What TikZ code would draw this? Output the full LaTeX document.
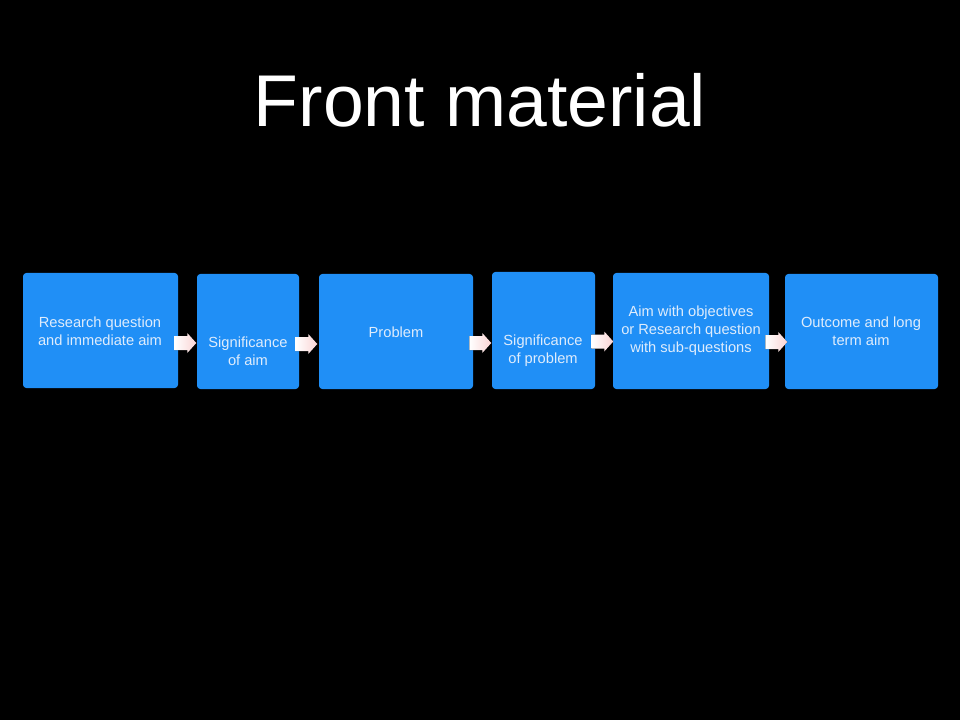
\documentclass[tikz,border=0pt]{standalone}
\usepackage{fontspec}
\setmainfont{Liberation Sans}
\usetikzlibrary{calc}
\definecolor{boxblue}{RGB}{32,143,246}
\definecolor{lbltext}{RGB}{222,236,252}
\definecolor{arrowpink}{RGB}{250,212,212}
\newcommand\mybox[5]{\node[box, minimum width={(#4-#2)*0.75pt}, minimum height={(#5-#3)*0.75pt}] (#1) at ({(#2+#4)/2},{(#3+#5)/2}) {};}
\newcommand\myarrow[3]{%
  \coordinate (#1s) at ($(#1.east)+(-4,#3)$);
  \fill[blockarrow] (#1s) ++(0,-7) -- ++(13,0) -- ++(0,-3) -- ++(9,10) -- ++(-9,10) -- ++(0,-3) -- ++(-13,0) -- cycle;}
\begin{document}
\begin{tikzpicture}[x=0.75pt,y=-0.75pt,
  box/.style={fill=boxblue, rounded corners=2.5pt, inner sep=0pt, draw=none},
  lbl/.style={text=lbltext, align=center, inner sep=0pt, font=\fontsize{11}{13.5}\selectfont},
  blockarrow/.style={shading=axis, left color=white, right color=arrowpink, draw=none},
  titlestyle/.style={text=white, inner sep=0pt, font=\fontsize{55}{60}\selectfont}]
\fill[black] (0,0) rectangle (960,720);
\useasboundingbox (0,0) rectangle (960,720);
\node[titlestyle, anchor=base] (title) at (480,127) {Front material};
\mybox{b1}{23}{273}{178}{388}
\mybox{b2}{197}{274}{299}{389}
\mybox{b3}{319}{274}{473}{389}
\mybox{b4}{492}{272}{595}{389}
\mybox{b5}{613}{273}{769}{389}
\mybox{b6}{785}{274}{938}{389}
\node[lbl] (t1) at (100,331) {Research question\\and immediate aim};
\node[lbl] (t2) at (248,351) {Significance\\of aim};
\node[lbl] (t3) at (396,332) {Problem};
\node[lbl] (t4) at (543,351) {Significance\\of problem};
\node[lbl] (t5) at (691,331) {Aim with objectives\\or Research question\\with sub-questions};
\node[lbl] (t6) at (861,331) {Outcome and long\\term aim};
\myarrow{b1}{b2}{12.5}
\myarrow{b2}{b3}{12.5}
\myarrow{b3}{b4}{11.5}
\myarrow{b4}{b5}{11}
\myarrow{b5}{b6}{11}
\end{tikzpicture}
\end{document}
